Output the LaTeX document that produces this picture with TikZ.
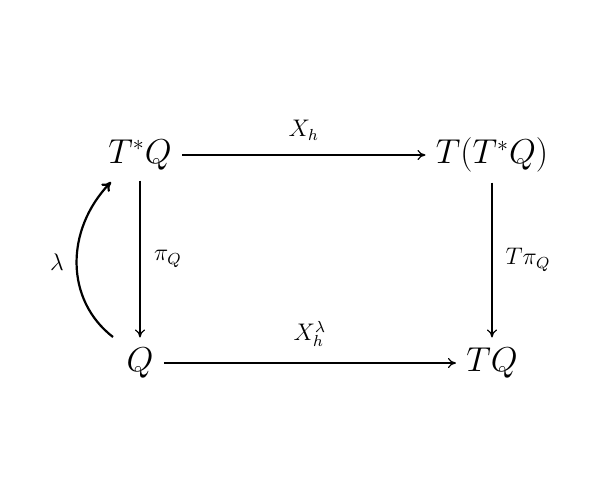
\documentclass[tikz,border=0pt]{standalone}
\usetikzlibrary{arrows.meta}
\begin{document}
\begin{tikzpicture}[x=0.5pt,y=-0.5pt,
  obj/.style={inner sep=5pt,font=\fontsize{16}{19}\selectfont},
  lab/.style={inner sep=0pt,font=\fontsize{12}{14}\selectfont},
  map/.style={-{To[length=4pt,width=5pt]},line width=0.6pt},
  lift/.style={-{To[length=4.5pt,width=5.5pt]},line width=1.1pt}]
\useasboundingbox (0,0) rectangle (600,500);
\node[obj] (TsQ) at (140,155) {$T^*Q$};
\node[obj] (TTsQ) at (492,155) {$T(T^*Q)$};
\node[obj] (Q) at (140,363) {$Q$};
\node[obj] (TQ) at (492,363) {$TQ$};
\coordinate (ls) at (113,337);
\coordinate (le) at (111,182);
\draw[map] (TsQ) -- (TTsQ) node[lab,midway,yshift=12.5pt] (Xh) {$X_h$};
\draw[map] (Q) -- (TQ) node[lab,midway,yshift=14.5pt] (Xhl) {$X_h^\lambda$};
\draw[map] (TsQ.south) -- (Q.north) node[lab,midway,xshift=14pt] (pQ) {$\pi_Q$};
\draw[map] (TTsQ.south -| TQ.north) -- (TQ.north) node[lab,midway,xshift=18pt] (TpQ) {$T\pi_Q$};
\draw[lift] (ls) .. controls (65,300) and (65,230) .. (le);
\node[lab] (lam) at (57,262) {$\lambda$};
\end{tikzpicture}
\end{document}
